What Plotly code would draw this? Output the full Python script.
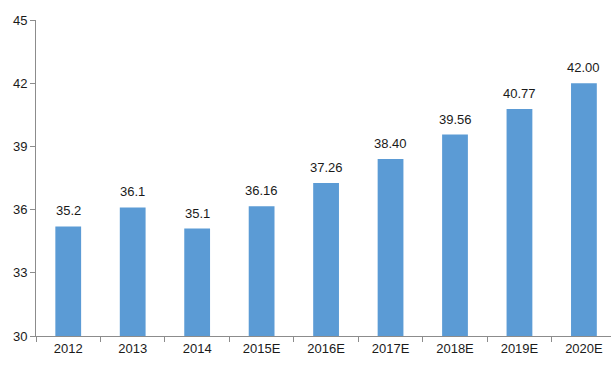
import plotly.graph_objects as go

categories = ["2012", "2013", "2014", "2015E", "2016E", "2017E", "2018E", "2019E", "2020E"]
values = [35.2, 36.1, 35.1, 36.16, 37.26, 38.40, 39.56, 40.77, 42.00]
labels = ["35.2", "36.1", "35.1", "36.16", "37.26", "38.40", "39.56", "40.77", "42.00"]
y_ticks = [30, 33, 36, 39, 42, 45]

font = "Liberation Sans, Arial, sans-serif"

fig = go.Figure(go.Bar(
    x=categories, y=values, marker_color="#5B9BD5", width=0.4,
    marker_line_width=0, hoverinfo="skip",
))

for i, (v, t) in enumerate(zip(values, labels)):
    fig.add_annotation(x=i, y=v, text=t, showarrow=False, yanchor="bottom",
                       yshift=6, font=dict(family=font, size=13, color="#1a1a1a"))

fig.update_layout(
    width=611, height=370,
    margin=dict(l=36, r=0, t=20, b=34),
    paper_bgcolor="white", plot_bgcolor="white",
    showlegend=False,
    font=dict(family=font, size=13, color="#1a1a1a"),
    xaxis=dict(
        type="category", range=[-0.5, 8.42],
        showline=True, linecolor="#8c8c8c", linewidth=1,
        ticks="outside", tickson="boundaries", ticklen=5, tickcolor="#8c8c8c",
        showgrid=False, zeroline=False,
    ),
    yaxis=dict(
        range=[30, 45], tickvals=y_ticks,
        showline=True, linecolor="#8c8c8c", linewidth=1,
        ticks="outside", ticklen=5, tickcolor="#8c8c8c",
        showgrid=False, zeroline=False,
    ),
)

fig.write_html("out.html", config={"displayModeBar": False},
               post_script="document.body.style.margin='0';")
